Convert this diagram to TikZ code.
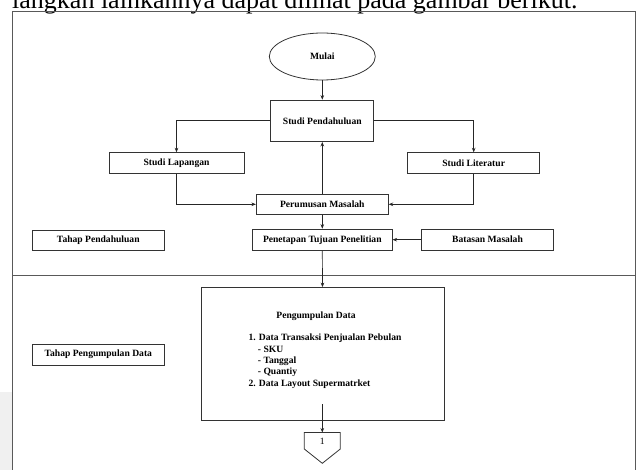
\documentclass[tikz,border=0pt]{standalone}
\usepackage{fontspec}
\setmainfont{Liberation Serif}
\usetikzlibrary{arrows.meta,shapes.geometric}
\begin{document}
\begin{tikzpicture}[x=1pt,y=-1pt,
  bx/.style={draw=black!80, line width=0.8pt, inner sep=0pt,
    font=\fontsize{9.6}{11.5}\selectfont\bfseries, align=center},
  lbl/.style={inner sep=0pt, anchor=base west, font=\fontsize{9.6}{11.5}\selectfont\bfseries},
  arr/.style={-{Stealth[length=4.5pt,width=3.6pt]}, line width=0.7pt, draw=black!85},
  frame/.style={draw=black!65, line width=0.8pt}]
\useasboundingbox (0,0) rectangle (637,470);
\clip (0,0) rectangle (637,470);
% faint watermark at lower left
\fill[gray!12] (0,392) rectangle (11.5,470);
% cut-off introductory line
\node[anchor=base west, inner sep=0pt, font=\fontsize{26}{26}\selectfont] (intro) at (12,8.3)
  {langkah lainkannya dapat dilihat pada gambar berikut.};
% frame and divider
\draw[frame] (12.5,480) |- (635.7,11) -- (635.7,480);
\draw[frame] (12.5,275) -- (635.7,275);
% nodes
\node[draw=black!80, line width=0.8pt, ellipse, inner sep=0pt, minimum width=106pt, minimum height=47pt,
  font=\fontsize{9.6}{11.5}\selectfont\bfseries] (mulai) at (322.3,56.5) {Mulai};
\node[bx, minimum width=103pt, minimum height=41.5pt] (sp) at (322.3,120.8) {Studi Pendahuluan};
\node[bx, minimum width=135pt, minimum height=20.6pt] (sl) at (176.5,163) {Studi Lapangan};
\node[bx, minimum width=132pt, minimum height=20.6pt] (slit) at (473.7,163) {Studi Literatur};
\node[bx, minimum width=132pt, minimum height=20.7pt] (pm) at (322.3,204.3) {Perumusan Masalah};
\node[bx, minimum width=139.7pt, minimum height=21.3pt] (pt) at (322.3,239.7) {Penetapan Tujuan Penelitian};
\node[bx, minimum width=131.6pt, minimum height=20.7pt] (bm) at (487.5,239.7) {Batasan Masalah};
\node[bx, minimum width=132pt, minimum height=20.3pt] (tp) at (98.3,240.2) {Tahap Pendahuluan};
\node[bx, minimum width=132pt, minimum height=21pt] (tpd) at (98.3,354.5) {Tahap Pengumpulan Data};
\node[bx, minimum width=243pt, minimum height=133pt] (pd) at (322.5,354) {};
% contents of the data collection box
\node[inner sep=0pt, anchor=base, font=\fontsize{9.6}{11.5}\selectfont\bfseries] (pdt) at (316,318) {Pengumpulan Data};
\node[lbl] (l1) at (248.3,340) {1. Data Transaksi Penjualan Pebulan};
\node[lbl] (l2) at (257.7,352.5) {- SKU};
\node[lbl] (l3) at (257.7,363.2) {- Tanggal};
\node[lbl] (l4) at (257.7,374) {- Quantiy};
\node[lbl] (l5) at (248.3,386) {2. Data Layout Supermatrket};
% off-page connector
\coordinate (optop) at (322.3,432.5);
\draw[draw=black!80, line width=0.8pt] (304.3,432.5) -- (340.3,432.5) -- (340.3,449) -- (322.3,463.3) -- (304.3,449) -- cycle;
\node[inner sep=0pt, font=\fontsize{9.6}{11.5}\selectfont] (one) at (322.3,441.5) {1};
\coordinate (pdin) at (322.3,404);
% connectors
\draw[arr] (mulai.south) -- (sp.north);
\draw[arr] (sp.west) -| (sl.north);
\draw[arr] (sp.east) -| (slit.north);
\draw[arr] (sl.south) |- (pm.west);
\draw[arr] (slit.south) |- (pm.east);
\draw[arr] (pm.north) -- (sp.south);
\draw[arr] (pm.south) -- (pt.north);
\draw[arr] (bm.west) -- (pt.east);
\draw[arr] (pt.south) -- (pd.north);
\draw[arr] (pdin) -- (optop);
\end{tikzpicture}
\end{document}
